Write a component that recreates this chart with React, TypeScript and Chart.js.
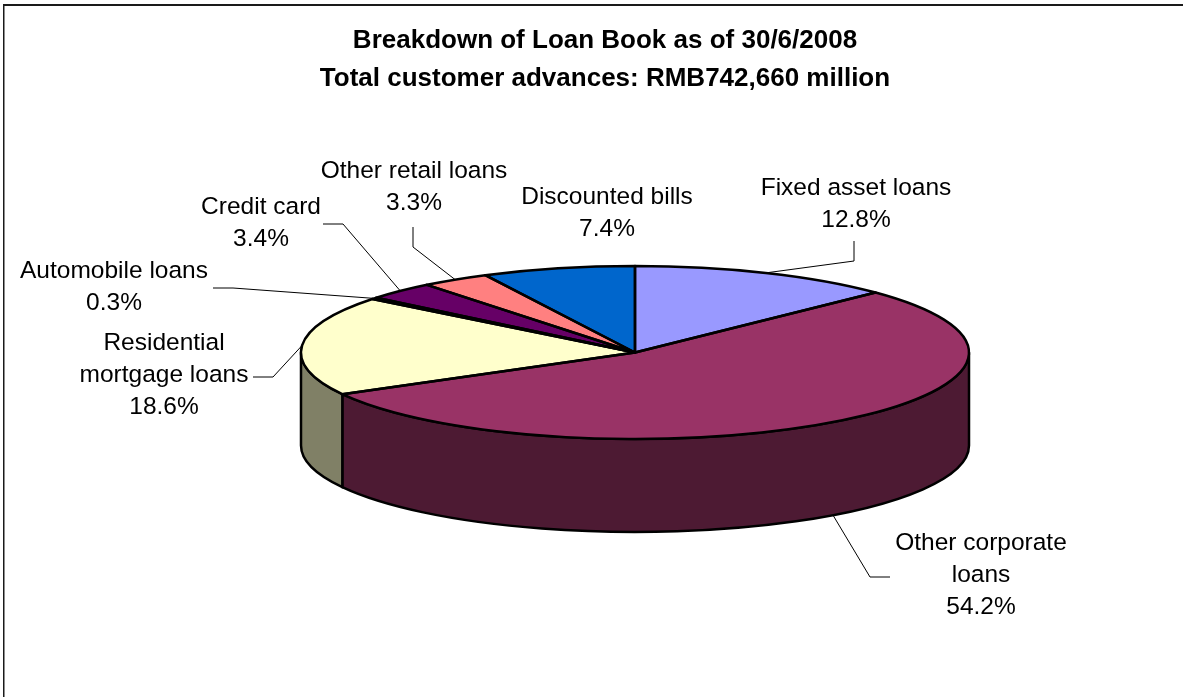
import React, { useEffect, useRef } from "react";
import { Chart, registerables } from "chart.js";

Chart.register(...registerables);

const FONT = "'Liberation Sans', Arial, sans-serif";

const titleLines = [
  "Breakdown of Loan Book as of 30/6/2008",
  "Total customer advances: RMB742,660 million",
];
const categories = [
  "Fixed asset loans",
  "Other corporate loans",
  "Residential mortgage loans",
  "Automobile loans",
  "Credit card",
  "Other retail loans",
  "Discounted bills",
];
const shares = [12.8, 54.2, 18.6, 0.3, 3.4, 3.3, 7.4];
const sliceColors = ["#9999FF", "#993366", "#FFFFCC", "#CCFFFF", "#660066", "#FF8080", "#0066CC"];

// Wrapped category names as they appear in the callouts.
const wrappedNames = [
  ["Fixed asset loans"],
  ["Other corporate", "loans"],
  ["Residential", "mortgage loans"],
  ["Automobile loans"],
  ["Credit card"],
  ["Other retail loans"],
  ["Discounted bills"],
];

// Callout placement: text centre and first line's middle, plus the elbow of the leader.
// A null path means the slice has no leader line.
type Callout = { x: number; y: number; path: number[][] | null };
const callouts: Callout[] = [
  { x: 856, y: 188, path: [[854, 241], [854, 261]] },
  { x: 981, y: 543, path: [[890, 577], [870, 577]] },
  { x: 164, y: 343, path: [[253, 377], [273, 377]] },
  { x: 114, y: 271, path: [[213, 288], [233, 288]] },
  { x: 261, y: 207, path: [[323, 224], [343, 224]] },
  { x: 414, y: 171, path: [[413, 227], [413, 247]] },
  { x: 607, y: 197, path: null },
];

// Projection of the flat pie onto a tilted disc.
const DISC_X = 635;
const DISC_Y = 352.5;
const DISC_RX = 334;
const DISC_RY = 86.5;
const DISC_DEPTH = 93;
const LABEL_LINE = 32;

const halfShade = (hex: string) => {
  const n = parseInt(hex.slice(1), 16);
  const h = (v: number) => Math.round(v / 2).toString(16).padStart(2, "0");
  return `#${h((n >> 16) & 255)}${h((n >> 8) & 255)}${h(n & 255)}`;
};

const applyDisc = (ctx: CanvasRenderingContext2D, ox: number, oy: number) => {
  ctx.translate(DISC_X, DISC_Y);
  ctx.scale(1, DISC_RY / DISC_RX);
  ctx.translate(-ox, -oy);
};

const tiltedPie = {
  id: "tiltedPie",
  beforeDraw(chart: Chart) {
    const { ctx, width, height } = chart;
    ctx.save();
    ctx.fillStyle = "#ffffff";
    ctx.fillRect(0, 0, width, height);
    ctx.fillStyle = "#1a1a1a";
    ctx.fillRect(3, 4, width - 3, 2);
    ctx.fillRect(3, 4, 1.5, height - 4);
    ctx.restore();
  },
  beforeDatasetsDraw(chart: Chart) {
    const { ctx } = chart;
    const arcs = chart.getDatasetMeta(0).data as any[];
    ctx.save();
    ctx.strokeStyle = "#000000";
    ctx.lineWidth = 2.5;
    ctx.lineJoin = "round";
    arcs.forEach((arc, i) => {
      const from = Math.max(arc.startAngle, 0);
      const to = Math.min(arc.endAngle, Math.PI);
      if (to <= from) return;
      ctx.beginPath();
      ctx.ellipse(DISC_X, DISC_Y, DISC_RX, DISC_RY, 0, from, to);
      ctx.ellipse(DISC_X, DISC_Y + DISC_DEPTH, DISC_RX, DISC_RY, 0, to, from, true);
      ctx.closePath();
      ctx.fillStyle = halfShade(sliceColors[i]);
      ctx.fill();
      ctx.stroke();
    });
    ctx.restore();
    ctx.save();
    const first = arcs[0];
    applyDisc(ctx, first.x, first.y);
  },
  afterDatasetsDraw(chart: Chart) {
    const { ctx } = chart;
    ctx.restore();
    const arcs = chart.getDatasetMeta(0).data as any[];

    // Slice outlines keep an even width, so the path is scaled but the stroke is not.
    ctx.save();
    ctx.strokeStyle = "#000000";
    ctx.lineWidth = 2.5;
    ctx.lineJoin = "round";
    arcs.forEach((arc) => {
      ctx.save();
      applyDisc(ctx, arc.x, arc.y);
      ctx.beginPath();
      ctx.moveTo(arc.x, arc.y);
      ctx.arc(arc.x, arc.y, arc.outerRadius, arc.startAngle, arc.endAngle);
      ctx.closePath();
      ctx.restore();
      ctx.stroke();
    });
    ctx.restore();

    // Leaders run from the rim at each slice's middle angle to the elbow near its text.
    ctx.save();
    ctx.strokeStyle = "#000000";
    ctx.lineWidth = 1;
    arcs.forEach((arc, i) => {
      const path = callouts[i].path;
      if (!path) return;
      const mid = (arc.startAngle + arc.endAngle) / 2;
      const rimY = DISC_Y + DISC_RY * Math.sin(mid);
      const facing = Math.sin(mid) > 0.3;
      ctx.beginPath();
      ctx.moveTo(path[0][0], path[0][1]);
      ctx.lineTo(path[1][0], path[1][1]);
      ctx.lineTo(DISC_X + DISC_RX * Math.cos(mid), rimY + (facing ? DISC_DEPTH : 0));
      ctx.stroke();
    });
    ctx.restore();

    ctx.save();
    ctx.fillStyle = "#000000";
    ctx.font = `24.5px ${FONT}`;
    ctx.textAlign = "center";
    ctx.textBaseline = "middle";
    callouts.forEach((c, i) => {
      const lines = [...wrappedNames[i], `${shares[i].toFixed(1)}%`];
      lines.forEach((line, n) => ctx.fillText(line, c.x, c.y + n * LABEL_LINE));
    });
    ctx.restore();
  },
};

export default function App() {
  const ref = useRef<HTMLCanvasElement>(null);
  useEffect(() => {
    const chart = new Chart(ref.current!, {
      type: "pie",
      data: {
        labels: categories,
        datasets: [
          {
            data: shares,
            backgroundColor: sliceColors,
            borderWidth: 0,
            radius: DISC_RX,
            clip: false,
          } as any,
        ],
      },
      options: {
        responsive: false,
        animation: false,
        events: [],
        layout: { padding: { left: 27, right: 0, top: 0, bottom: 0 } },
        plugins: {
          legend: { display: false },
          tooltip: { enabled: false },
          title: {
            display: true,
            text: titleLines,
            color: "#000000",
            padding: { top: 22, bottom: 0 },
            font: { family: FONT, size: 26, weight: "bold", lineHeight: 38 / 26 },
          },
        },
      },
      plugins: [tiltedPie],
    });
    return () => chart.destroy();
  }, []);
  return (
    <canvas
      ref={ref}
      width={1183}
      height={697}
      style={{ position: "absolute", left: 0, top: 0, display: "block" }}
    />
  );
}
